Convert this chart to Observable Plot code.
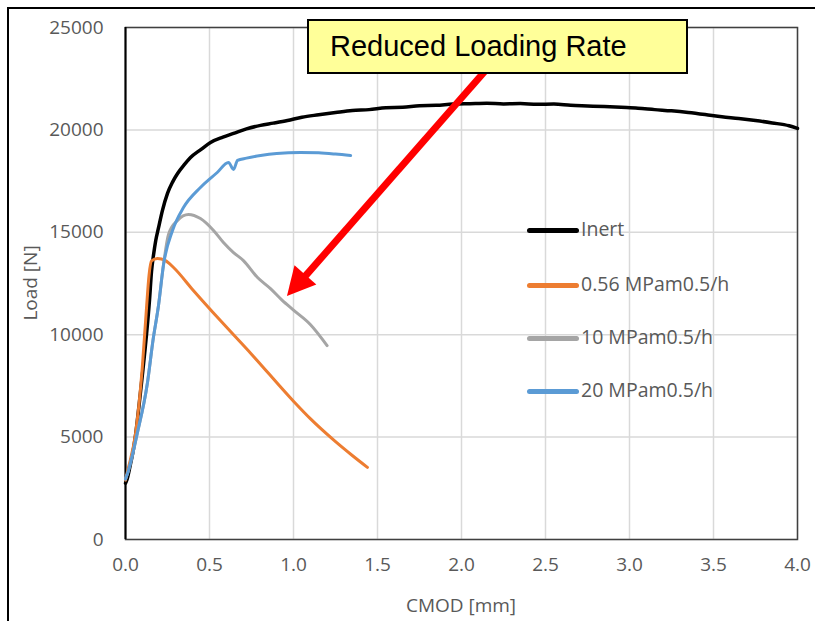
<!DOCTYPE html>
<html>
<head>
<meta charset="utf-8">
<script src="https://cdn.jsdelivr.net/npm/d3@7"></script>
<script src="https://cdn.jsdelivr.net/npm/@observablehq/plot@0.6"></script>
<style>
  html, body { margin: 0; padding: 0; background: #fff; }
  #wrap { position: relative; width: 815px; height: 621px; overflow: hidden; font-family: "Open Sans", "Noto Sans", sans-serif; }
  #outer { position: absolute; left: 7px; top: 7px; width: 1000px; height: 1000px; border: 2px solid #000; box-sizing: border-box; }
  #chart { position: absolute; left: 0; top: 0; }
  .lab { position: absolute; color: #595959; font-size: 19px; white-space: nowrap; }
  .legitem { position: absolute; left: 527px; height: 20px; }
  .legline { position: absolute; left: 0; width: 52px; height: 5px; border-radius: 3px; }
  .legtext { position: absolute; left: 54px; top: -13px; color: #595959; font-size: 19.5px; white-space: nowrap; }
  #note { position: absolute; left: 307px; top: 19px; width: 381px; height: 55px; box-sizing: border-box; background: #ffff99; border: 2px solid #000; font-family: "Liberation Sans", Arial, sans-serif; font-size: 29px; color: #000; padding-left: 21px; line-height: 51px; }
</style>
</head>
<body>
<div id="wrap">
  <div id="outer"></div>
  <div id="chart"></div>
</div>
<script>
// ---- data ----
const xTicks = [0, 0.5, 1, 1.5, 2, 2.5, 3, 3.5, 4];
const yTicks = [0, 5000, 10000, 15000, 20000, 25000];
const seriesNames = ["Inert", "0.56 MPam0.5/h", "10 MPam0.5/h", "20 MPam0.5/h"];
const seriesColors = ["#000000", "#ED7D31", "#A5A5A5", "#5B9BD5"];

const inertCmod = [0.0, 0.01, 0.02, 0.03, 0.045, 0.06, 0.08, 0.1, 0.125, 0.143, 0.155, 0.167, 0.18, 0.196, 0.22, 0.25, 0.28, 0.31, 0.35, 0.387, 0.45, 0.506, 0.58, 0.643, 0.72, 0.804, 0.88, 0.964, 1.05, 1.15, 1.25, 1.35, 1.45, 1.55, 1.65, 1.75, 1.85, 1.95, 2.05, 2.15, 2.25, 2.35, 2.45, 2.55, 2.65, 2.75, 2.85, 2.95, 3.05, 3.15, 3.25, 3.35, 3.45, 3.55, 3.65, 3.75, 3.85, 3.95, 4.0];
const inertLoad = [2750, 2950, 3300, 3700, 4300, 5100, 6500, 8000, 10000, 11700, 13100, 13900, 14600, 15200, 16070, 16900, 17450, 17870, 18300, 18650, 19050, 19390, 19650, 19830, 20050, 20220, 20330, 20460, 20620, 20740, 20850, 20950, 20990, 21080, 21100, 21180, 21200, 21260, 21280, 21300, 21270, 21290, 21250, 21260, 21200, 21170, 21140, 21100, 21060, 20990, 20930, 20850, 20750, 20640, 20560, 20460, 20340, 20200, 20070];

const lowCmod = [0.0, 0.018, 0.06, 0.1, 0.125, 0.14, 0.155, 0.19, 0.238, 0.286, 0.4, 0.565, 0.75, 1.0, 1.1, 1.24, 1.35, 1.44];
const lowLoad = [2900, 3520, 5180, 8400, 11300, 12900, 13600, 13720, 13620, 13280, 12200, 10690, 9050, 6750, 5900, 4850, 4100, 3520];

const midCmod = [0.0, 0.012, 0.07, 0.13, 0.165, 0.196, 0.226, 0.256, 0.31, 0.375, 0.446, 0.524, 0.583, 0.643, 0.702, 0.786, 0.863, 0.93, 1.0, 1.1, 1.2];
const midLoad = [2950, 3220, 5180, 7620, 9800, 11400, 13400, 14900, 15580, 15870, 15670, 15090, 14500, 14010, 13620, 12790, 12250, 11700, 11200, 10500, 9470];

const highCmod = [0.0, 0.012, 0.07, 0.13, 0.165, 0.196, 0.226, 0.28, 0.345, 0.446, 0.546, 0.613, 0.643, 0.667, 0.72, 0.804, 0.9, 1.04, 1.15, 1.25, 1.34];
const highLoad = [2950, 3220, 5180, 7620, 9800, 11400, 13400, 15090, 16210, 17190, 17920, 18410, 18070, 18510, 18620, 18750, 18850, 18900, 18880, 18820, 18750];

const arrowTail = [2.143, 22900];
const arrowTip = [0.964, 11870];

// ---- build tables ----
function toRows(xs, ys) { return xs.map((x, i) => ({cmod: x, load: ys[i]})); }
const seriesRows = [
  toRows(inertCmod, inertLoad),
  toRows(lowCmod, lowLoad),
  toRows(midCmod, midLoad),
  toRows(highCmod, highLoad)
];
const widths = [3.5, 3, 3, 3];

const arrowData = [{x1: arrowTail[0], y1: arrowTail[1], x2: arrowTip[0], y2: arrowTip[1]}];

function arrowHead(index, scales) {
  const ns = "http://www.w3.org/2000/svg";
  const g = document.createElementNS(ns, "g");
  const tx = scales.x(arrowTip[0]), ty = scales.y(arrowTip[1]);
  const sx = scales.x(arrowTail[0]), sy = scales.y(arrowTail[1]);
  const dx = sx - tx, dy = sy - ty, len = Math.hypot(dx, dy);
  const ux = dx / len, uy = dy / len;
  const L = 28, W = 14.5;
  const bx = tx + ux * L, by = ty + uy * L;
  const pts = [[tx, ty], [bx - uy * W, by + ux * W], [bx + uy * W, by - ux * W]];
  const p = document.createElementNS(ns, "polygon");
  p.setAttribute("points", pts.map(d => d.join(",")).join(" "));
  p.setAttribute("fill", "#FF0000");
  g.appendChild(p);
  return g;
}

const marks = [
  Plot.ruleX(xTicks, {stroke: "#d9d9d9", strokeWidth: 1.5}),
  Plot.ruleY(yTicks, {stroke: "#d9d9d9", strokeWidth: 1.5}),
  Plot.frame({stroke: "#404040", strokeWidth: 1.5}),
  Plot.ruleX([0], {stroke: "#000", strokeWidth: 2})
];
seriesRows.forEach((rows, i) => {
  marks.push(Plot.line(rows, {x: "cmod", y: "load", stroke: seriesColors[i], strokeWidth: widths[i], curve: "monotone-x", strokeLinejoin: "round", strokeLinecap: "round"}));
});
marks.push(Plot.arrow(arrowData, {x1: "x1", y1: "y1", x2: "x2", y2: "y2", stroke: "#FF0000", strokeWidth: 7, headLength: 0, insetEnd: 20, strokeLinecap: "butt"}));
marks.push(arrowHead);

const chart = Plot.plot({
  width: 815,
  height: 621,
  marginLeft: 125,
  marginRight: 18,
  marginTop: 27,
  marginBottom: 82,
  style: {fontFamily: "'Open Sans', 'Noto Sans', sans-serif", fontSize: "19px", color: "#595959", background: "transparent", overflow: "visible"},
  x: {domain: [0, 4], ticks: xTicks, tickFormat: d3.format(".1f"), label: null, tickSize: 0, tickPadding: 18},
  y: {domain: [0, 25000], ticks: yTicks, tickFormat: d => String(d), label: null, tickSize: 0, tickPadding: 22},
  marks
});
document.getElementById("chart").appendChild(chart);

// ---- axis titles, legend, annotation ----
const wrap = document.getElementById("wrap");
function addDiv(cls, text, css) {
  const d = document.createElement("div");
  d.className = cls;
  d.textContent = text;
  Object.assign(d.style, css);
  wrap.appendChild(d);
  return d;
}
addDiv("lab", "CMOD [mm]", {left: "461px", top: "605px", transform: "translate(-50%, -50%)"});
addDiv("lab", "Load [N]", {left: "30px", top: "283px", transform: "translate(-50%, -50%) rotate(-90deg)"});

const legendY = [230, 285, 338, 391];
seriesNames.forEach((name, i) => {
  const item = document.createElement("div");
  item.className = "legitem";
  item.style.top = (legendY[i] - 2) + "px";
  const ln = document.createElement("div");
  ln.className = "legline";
  ln.style.background = seriesColors[i];
  const tx = document.createElement("div");
  tx.className = "legtext";
  tx.textContent = name;
  item.appendChild(ln);
  item.appendChild(tx);
  wrap.appendChild(item);
});

const note = document.createElement("div");
note.id = "note";
note.textContent = "Reduced Loading Rate";
wrap.appendChild(note);
</script>
</body>
</html>
